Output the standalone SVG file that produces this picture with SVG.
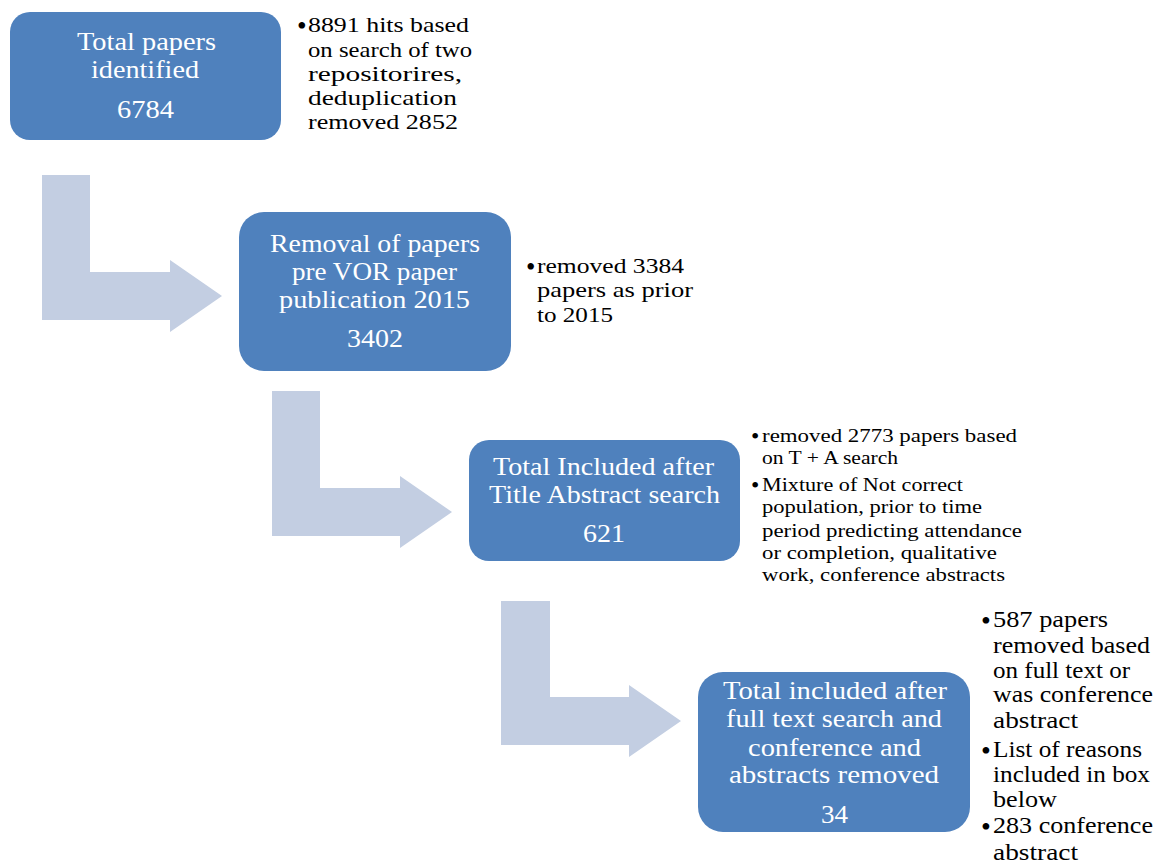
<svg xmlns="http://www.w3.org/2000/svg" width="1156" height="866" viewBox="0 0 1156 866">
<style>
.box{fill:#4F81BD}
.bt{font-family:"Liberation Serif","Times New Roman",serif;font-size:25.5px;fill:#FFFFFF}
.nt{font-family:"Liberation Serif","Times New Roman",serif;fill:#000000}
.dot{font-size:1.25em}
.arrow{fill:#C3CEE2}
</style>
<rect width="1156" height="866" fill="#FFFFFF"/>
<g id="connectors">
<path class="arrow" d="M42,175 H90 V272 H170 V260 L222,296 L170,332 V320 H42 Z"/>
<path class="arrow" d="M272,391 H320 V488 H400 V476 L452,512 L400,548 V536 H272 Z"/>
<path class="arrow" d="M501,601 H550 V697 H629 V685 L681,721 L629,757 V745 H501 Z"/>
</g>
<g id="node1">
<rect class="box" x="10" y="12" width="271" height="128" rx="20"/>
<text class="bt" x="77" y="50" textLength="139" lengthAdjust="spacingAndGlyphs">Total papers</text>
<text class="bt" x="91" y="78" textLength="108" lengthAdjust="spacingAndGlyphs">identified</text>
<text class="bt" x="117" y="118" textLength="57" lengthAdjust="spacingAndGlyphs">6784</text>
</g>
<g id="note1" class="nt" font-size="22">
<text class="dot" x="297" y="35">•</text>
<text x="308" y="32" textLength="161" lengthAdjust="spacingAndGlyphs">8891 hits based</text>
<text x="308" y="57" textLength="164" lengthAdjust="spacingAndGlyphs">on search of two</text>
<text x="308" y="81" textLength="154" lengthAdjust="spacingAndGlyphs">repositorires,</text>
<text x="308" y="105" textLength="149" lengthAdjust="spacingAndGlyphs">deduplication</text>
<text x="308" y="129" textLength="150" lengthAdjust="spacingAndGlyphs">removed 2852</text>
</g>
<g id="node2">
<rect class="box" x="239" y="212" width="272" height="159" rx="25"/>
<text class="bt" x="270" y="252" textLength="210" lengthAdjust="spacingAndGlyphs">Removal of papers</text>
<text class="bt" x="292" y="280" textLength="165" lengthAdjust="spacingAndGlyphs">pre VOR paper</text>
<text class="bt" x="279" y="308" textLength="191" lengthAdjust="spacingAndGlyphs">publication 2015</text>
<text class="bt" x="347" y="347" textLength="56" lengthAdjust="spacingAndGlyphs">3402</text>
</g>
<g id="note2" class="nt" font-size="21.5">
<text class="dot" x="526" y="276">•</text>
<text x="537" y="273" textLength="147" lengthAdjust="spacingAndGlyphs">removed 3384</text>
<text x="537" y="297" textLength="156" lengthAdjust="spacingAndGlyphs">papers as prior</text>
<text x="537" y="322" textLength="76" lengthAdjust="spacingAndGlyphs">to 2015</text>
</g>
<g id="node3">
<rect class="box" x="469" y="440" width="271" height="121" rx="20"/>
<text class="bt" x="493" y="475" textLength="221" lengthAdjust="spacingAndGlyphs">Total Included after</text>
<text class="bt" x="489" y="503" textLength="231" lengthAdjust="spacingAndGlyphs">Title Abstract search</text>
<text class="bt" x="583" y="542" textLength="42" lengthAdjust="spacingAndGlyphs">621</text>
</g>
<g id="note3" class="nt" font-size="19">
<text class="dot" x="751" y="444">•</text>
<text x="762" y="442" textLength="255" lengthAdjust="spacingAndGlyphs">removed 2773 papers based</text>
<text x="762" y="464" textLength="136" lengthAdjust="spacingAndGlyphs">on T + A search</text>
<text class="dot" x="751" y="493">•</text>
<text x="762" y="491" textLength="201" lengthAdjust="spacingAndGlyphs">Mixture of Not correct</text>
<text x="762" y="513" textLength="220" lengthAdjust="spacingAndGlyphs">population, prior to time</text>
<text x="762" y="537" textLength="260" lengthAdjust="spacingAndGlyphs">period predicting attendance</text>
<text x="762" y="559" textLength="235" lengthAdjust="spacingAndGlyphs">or completion, qualitative</text>
<text x="762" y="581" textLength="243" lengthAdjust="spacingAndGlyphs">work, conference abstracts</text>
</g>
<g id="node4">
<rect class="box" x="698" y="672" width="272" height="160" rx="25"/>
<text class="bt" x="723" y="699" textLength="224" lengthAdjust="spacingAndGlyphs">Total included after</text>
<text class="bt" x="726" y="727" textLength="216" lengthAdjust="spacingAndGlyphs">full text search and</text>
<text class="bt" x="748" y="756" textLength="173" lengthAdjust="spacingAndGlyphs">conference and</text>
<text class="bt" x="729" y="783" textLength="210" lengthAdjust="spacingAndGlyphs">abstracts removed</text>
<text class="bt" x="821" y="823" textLength="27" lengthAdjust="spacingAndGlyphs">34</text>
</g>
<g id="note4" class="nt" font-size="22.5">
<text class="dot" x="981" y="630">•</text>
<text x="993" y="627" textLength="115" lengthAdjust="spacingAndGlyphs">587 papers</text>
<text x="993" y="653" textLength="157" lengthAdjust="spacingAndGlyphs">removed based</text>
<text x="993" y="678" textLength="137" lengthAdjust="spacingAndGlyphs">on full text or</text>
<text x="993" y="702" textLength="160" lengthAdjust="spacingAndGlyphs">was conference</text>
<text x="993" y="728" textLength="85" lengthAdjust="spacingAndGlyphs">abstract</text>
<text class="dot" x="981" y="760">•</text>
<text x="993" y="757" textLength="149" lengthAdjust="spacingAndGlyphs">List of reasons</text>
<text x="993" y="782" textLength="157" lengthAdjust="spacingAndGlyphs">included in box</text>
<text x="993" y="807" textLength="64" lengthAdjust="spacingAndGlyphs">below</text>
<text class="dot" x="981" y="836">•</text>
<text x="993" y="833" textLength="160" lengthAdjust="spacingAndGlyphs">283 conference</text>
<text x="993" y="860" textLength="85" lengthAdjust="spacingAndGlyphs">abstract</text>
</g>
</svg>
